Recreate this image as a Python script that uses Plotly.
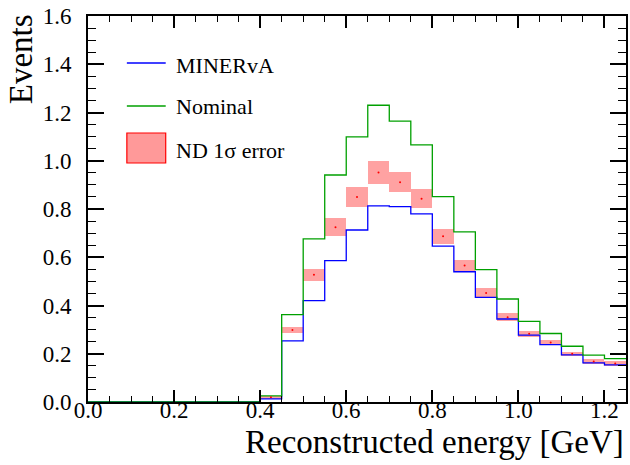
import plotly.graph_objects as go

# ---- data ----
bin_edges = [round(0.05 * i, 2) for i in range(26)]  # 0.00 .. 1.25
minerva = [0, 0, 0, 0, 0, 0, 0, 0, 0.013, 0.253, 0.420, 0.586, 0.713, 0.813, 0.810,
           0.780, 0.646, 0.540, 0.434, 0.344, 0.277, 0.238, 0.195, 0.162, 0.154]
nominal = [0, 0, 0, 0, 0, 0, 0, 0, 0.025, 0.362, 0.676, 0.941, 1.099, 1.230, 1.164,
           1.066, 0.851, 0.705, 0.549, 0.427, 0.334, 0.284, 0.231, 0.194, 0.180]
nd_center = [0, 0, 0, 0, 0, 0, 0, 0, 0.020, 0.298, 0.527, 0.724, 0.850, 0.951, 0.911,
             0.843, 0.687, 0.566, 0.452, 0.351, 0.283, 0.247, 0.200, 0.168, 0.160]
nd_err = [0, 0, 0, 0, 0, 0, 0, 0, 0.004, 0.014, 0.026, 0.037, 0.042, 0.046, 0.041,
          0.038, 0.030, 0.024, 0.021, 0.017, 0.012, 0.010, 0.009, 0.009, 0.009]
legend_labels = ["MINERvA", "Nominal", "ND 1σ error"]

FONT = "Liberation Serif"
PINK = "#ff9999"
BLUE = "#0000ff"
GREEN = "#00a000"

centers = [(bin_edges[i] + bin_edges[i + 1]) / 2 for i in range(len(minerva))]
step_x = bin_edges[:-1] + [bin_edges[-1]]

fig = go.Figure()

fig.add_trace(go.Scatter(x=step_x, y=minerva + [minerva[-1]], mode="lines",
                         line=dict(color=BLUE, width=1.3, shape="hv"),
                         showlegend=False, hoverinfo="skip"))
fig.add_trace(go.Scatter(x=step_x, y=nominal + [nominal[-1]], mode="lines",
                         line=dict(color=GREEN, width=1.3, shape="hv"),
                         showlegend=False, hoverinfo="skip"))

# error boxes (only non-empty bins)
idx = [i for i in range(len(nd_center)) if nd_center[i] > 0]
fig.add_trace(go.Bar(x=[centers[i] for i in idx],
                     y=[2 * nd_err[i] for i in idx],
                     base=[nd_center[i] - nd_err[i] for i in idx],
                     width=0.05, marker=dict(color=PINK, line=dict(width=0)),
                     opacity=0.9, showlegend=False, hoverinfo="skip"))
fig.add_trace(go.Scatter(x=[centers[i] for i in idx], y=[nd_center[i] for i in idx],
                         mode="markers", marker=dict(color="red", size=2),
                         showlegend=False, hoverinfo="skip"))

# ---- layout geometry ----
L, R, T, B = 88, 628, 16, 402
W, H = 630, 465


def px(xp):
    return (xp - L) / (R - L)


def py(yp):
    return (B - yp) / (B - T)


shapes = [
    dict(type="line", xref="paper", yref="paper", x0=px(127), x1=px(166), y0=py(63), y1=py(63),
         line=dict(color=BLUE, width=1.3)),
    dict(type="line", xref="paper", yref="paper", x0=px(127), x1=px(166), y0=py(106), y1=py(106),
         line=dict(color=GREEN, width=1.3)),
    dict(type="rect", xref="paper", yref="paper", x0=px(127), x1=px(166), y0=py(163), y1=py(133),
         fillcolor=PINK, line=dict(color="red", width=1.2)),
]

annotations = [
    dict(text=legend_labels[0], xref="paper", yref="paper", x=px(174), y=py(65),
         xanchor="left", yanchor="middle", showarrow=False, font=dict(family=FONT, size=22, color="black")),
    dict(text=legend_labels[1], xref="paper", yref="paper", x=px(174), y=py(107),
         xanchor="left", yanchor="middle", showarrow=False, font=dict(family=FONT, size=22, color="black")),
    dict(text=legend_labels[2], xref="paper", yref="paper", x=px(174), y=py(150),
         xanchor="left", yanchor="middle", showarrow=False, font=dict(family=FONT, size=22, color="black")),
    dict(text="Reconstructed energy [GeV]", xref="paper", yref="paper", x=1.0, y=py(442),
         xanchor="right", yanchor="middle", showarrow=False, font=dict(family=FONT, size=33, color="black")),
    dict(text="Events", xref="paper", yref="paper", x=px(21), y=py(12), textangle=-90,
         xanchor="center", yanchor="top", showarrow=False, font=dict(family=FONT, size=33, color="black")),
]

axis_common = dict(showgrid=False, zeroline=False, showline=True, linecolor="black", linewidth=2,
                   mirror="ticks", ticks="inside", tickcolor="black",
                   tickfont=dict(family=FONT, size=23, color="black"), tickformat=".1f")

fig.update_layout(
    width=W, height=H,
    margin=dict(l=L, r=W - R, t=T, b=H - B),
    paper_bgcolor="white", plot_bgcolor="white",
    shapes=shapes, annotations=annotations,
    bargap=0, barmode="overlay",
    xaxis=dict(range=[0, 1.25], dtick=0.2, tick0=0, ticklen=12, tickwidth=1.5,
               minor=dict(dtick=0.05, ticklen=6, tickwidth=1, tickcolor="black", ticks="inside"),
               ticklabelstandoff=-14, **axis_common),
    yaxis=dict(range=[0, 1.6], dtick=0.2, tick0=0, ticklen=16, tickwidth=1.5,
               minor=dict(dtick=0.05, ticklen=8, tickwidth=1, tickcolor="black", ticks="inside"),
               ticklabelstandoff=10, **axis_common),
)

fig.write_html("out.html", config={"displayModeBar": False},
               post_script="document.body.style.margin='0';document.body.style.overflow='hidden';")
